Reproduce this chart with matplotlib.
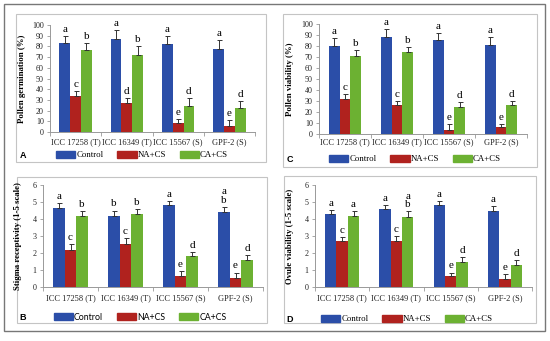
import matplotlib
matplotlib.use('Agg')
import matplotlib.pyplot as plt
from matplotlib.patches import Rectangle, Patch
import numpy as np

W, H = 550, 341

genotypes = ['ICC 17258 (T)', 'ICC 16349 (T)', 'ICC 15567 (S)', 'GPF-2 (S)']
treatments = ['Control', 'NA+CS', 'CA+CS']
colors = ['#2b4ea8', '#b0221e', '#6cb132']

# A - pollen germination (%)
germ_control = [83, 87, 82, 78]
germ_na = [34, 27, 8, 6]
germ_ca = [77, 72, 24, 22]
germ_control_err = [7, 8, 8, 8]
germ_na_err = [4, 5, 4, 5]
germ_ca_err = [6, 8, 8, 7]
germ_letters = [['a', 'c', 'b'], ['a', 'd', 'b'], ['a', 'e', 'd'], ['a', 'e', 'd']]

# C - pollen viability (%)
viab_control = [80, 88, 85, 81]
viab_na = [32, 26, 4, 6]
viab_ca = [71, 75, 25, 26]
viab_control_err = [7, 7, 7, 7]
viab_na_err = [4, 4, 5, 3]
viab_ca_err = [5, 4, 4, 4]
viab_letters = [['a', 'c', 'b'], ['a', 'c', 'b'], ['a', 'e', 'd'], ['a', 'e', 'd']]

# B - stigma receptivity (1-5 scale)
stig_control = [4.65, 4.2, 4.8, 4.4]
stig_na = [2.2, 2.55, 0.65, 0.55]
stig_ca = [4.2, 4.3, 1.8, 1.6]
stig_control_err = [0.3, 0.3, 0.25, 0.3]
stig_na_err = [0.35, 0.35, 0.3, 0.3]
stig_ca_err = [0.25, 0.3, 0.25, 0.3]
stig_letters = [['a', 'c', 'b'], ['b', 'c', 'b'], ['a', 'e', 'd'], ['a\nb', 'e', 'd']]

# D - ovule viability (1-5 scale)
ovule_control = [4.3, 4.6, 4.8, 4.5]
ovule_na = [2.7, 2.7, 0.65, 0.45]
ovule_ca = [4.2, 4.1, 1.5, 1.3]
ovule_control_err = [0.25, 0.2, 0.25, 0.25]
ovule_na_err = [0.25, 0.3, 0.2, 0.3]
ovule_ca_err = [0.25, 0.35, 0.25, 0.3]
ovule_letters = [['a', 'c', 'a'], ['a', 'c', 'a\nb'], ['a', 'e', 'd'], ['a', 'e', 'd']]

SERIF = 'Liberation Serif'
SANS = 'Liberation Sans'


def fx(x):
    return x / W


def fy(y):
    return 1 - y / H


fig = plt.figure(figsize=(W / 100, H / 100), dpi=100)

# outer frame and panel boxes
fig.patches.append(Rectangle((fx(4), fy(331)), fx(541), 327 / H, transform=fig.transFigure,
                             fill=False, edgecolor='#777777', lw=1.0))
for (l, t, r, b) in [(16, 14, 266, 162), (283, 14, 537, 167), (17, 177, 267, 323), (284, 176, 536, 323)]:
    fig.patches.append(Rectangle((fx(l), fy(b)), (r - l) / W, (b - t) / H, transform=fig.transFigure,
                                 fill=False, edgecolor='#c4c4c4', lw=0.8))


def panel(box, means, errs, letters, ylabel, ymax, ystep, ylab_x, leg_xy, leg_font, tag, tag_xy, xlab_y):
    l, t, r, b = box
    ax = fig.add_axes([fx(l), fy(b), (r - l) / W, (b - t) / H])
    x = np.arange(len(genotypes))
    w = 0.21
    for k in range(3):
        ax.bar(x + (k - 1) * w, means[k], w, color=colors[k], zorder=2)
        ax.errorbar(x + (k - 1) * w, means[k], yerr=[np.zeros(4), errs[k]], fmt='none',
                    ecolor='#333333', elinewidth=0.7, capsize=1.8, capthick=0.7, zorder=3)
        for i in range(4):
            ax.annotate(letters[i][k], (x[i] + (k - 1) * w, means[k][i] + errs[k][i]),
                        xytext=(0, 1.5), textcoords='offset points', ha='center', va='bottom',
                        fontsize=8, family=SERIF, linespacing=0.95)
    ax.set_xlim(-0.5, 3.5)
    ax.set_ylim(0, ymax)
    ax.set_yticks(np.arange(0, ymax + ystep / 2, ystep))
    ax.set_xticks(x)
    ax.set_xticklabels([])
    ax.set_xticks(np.arange(-0.5, 4, 1), minor=True)
    ax.tick_params(axis='x', which='major', length=0)
    ax.tick_params(axis='x', which='minor', length=3, color='#999999', width=0.6)
    ax.tick_params(axis='y', length=2.5, color='#999999', width=0.6, pad=2,
                   labelsize=5.8, labelcolor='#222222')
    for lab in ax.get_yticklabels():
        lab.set_family(SERIF)
    for s in ['top', 'right']:
        ax.spines[s].set_visible(False)
    for s in ['left', 'bottom']:
        ax.spines[s].set_color('#999999')
        ax.spines[s].set_linewidth(0.7)
    for i, g in enumerate(genotypes):
        fig.text(fx(l + (r - l) * (i + 0.5) / 4), fy(xlab_y), g, ha='center', va='center',
                 fontsize=6, family=SERIF, color='#222222')
    fig.text(fx(ylab_x), fy((t + b) / 2), ylabel, rotation=90, ha='center', va='center',
             fontsize=6.3, family=SERIF, fontweight='bold')
    handles = [Patch(color=colors[k], label=treatments[k]) for k in range(3)]
    fig.legend(handles=handles, loc='center', bbox_to_anchor=(fx(leg_xy[0]), fy(leg_xy[1])),
               ncol=3, frameon=False, prop={'family': leg_font, 'size': 6.3},
               handlelength=2.2, handleheight=0.8, handletextpad=0.1, columnspacing=1.6,
               borderpad=0, borderaxespad=0)
    fig.text(fx(tag_xy[0]), fy(tag_xy[1]), tag, ha='center', va='center',
             fontsize=6.5, family=SANS, fontweight='bold')
    return ax


panel((50, 25, 255, 132), [germ_control, germ_na, germ_ca],
      [germ_control_err, germ_na_err, germ_ca_err], germ_letters,
      'Pollen germination (%)', 100, 10, 22, (142, 155), SERIF, 'A', (23, 155), 142)

panel((319, 24, 527, 134), [viab_control, viab_na, viab_ca],
      [viab_control_err, viab_na_err, viab_ca_err], viab_letters,
      'Pollen viability (%)', 100, 10, 290, (415, 159), SERIF, 'C', (290, 159), 142)

panel((43, 185, 263, 287), [stig_control, stig_na, stig_ca],
      [stig_control_err, stig_na_err, stig_ca_err], stig_letters,
      'Stigma receptivity (1-5 scale)', 6, 1, 18, (140, 317), 'Lato', 'B', (23, 317), 298)

panel((315, 185, 532, 287), [ovule_control, ovule_na, ovule_ca],
      [ovule_control_err, ovule_na_err, ovule_ca_err], ovule_letters,
      'Ovule viability (1-5 scale)', 6, 1, 290, (407, 319), SERIF, 'D', (290, 319), 298)

fig.savefig('out.png', dpi=100)
